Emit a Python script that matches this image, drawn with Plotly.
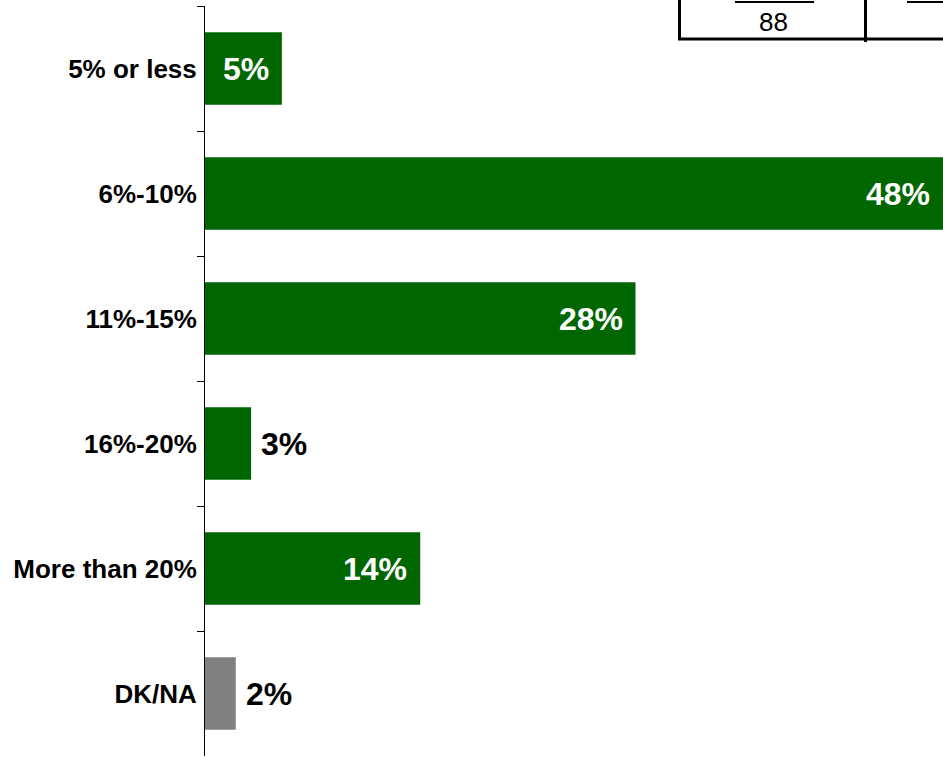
import plotly.graph_objects as go

categories = ["5% or less", "6%-10%", "11%-15%", "16%-20%", "More than 20%", "DK/NA"]
values = [5, 48, 28, 3, 14, 2]
labels = ["5%", "48%", "28%", "3%", "14%", "2%"]
colors = ["#006600", "#006600", "#006600", "#006600", "#006600", "#808080"]
table_value = "88"

W, H = 943, 757
ML, MR, MT, MB = 205, 0, 6, 1
PW, PH = W - ML - MR, H - MT - MB


def px(xp):
    return (xp - ML) / PW


def py(yp):
    return (H - MB - yp) / PH


FONT = "Liberation Sans, Arial, sans-serif"

fig = go.Figure(go.Bar(
    x=values, y=categories, orientation="h",
    marker=dict(color=colors, line=dict(width=0)),
    hoverinfo="skip",
))

annotations = []
for v, lab, c in zip(values, labels, categories):
    inside = v >= 5
    annotations.append(dict(
        x=v, y=c, xref="x", yref="y", text="<b>%s</b>" % lab, showarrow=False,
        xanchor="right" if inside else "left",
        xshift=-11 if inside else 8,
        font=dict(family=FONT, size=32, color="white" if inside else "black"),
    ))

annotations.append(dict(
    x=px(773), y=py(22), xref="paper", yref="paper", text=table_value,
    showarrow=False, xanchor="center", yanchor="middle",
    font=dict(family=FONT, size=26, color="black"),
))

line = dict(color="black", width=3)
shapes = [
    dict(type="line", xref="paper", yref="paper", x0=px(679.5), x1=px(679.5), y0=py(-10), y1=py(40), line=line),
    dict(type="line", xref="paper", yref="paper", x0=px(678), x1=px(960), y0=py(39), y1=py(39), line=line),
    dict(type="line", xref="paper", yref="paper", x0=px(865.5), x1=px(865.5), y0=py(-10), y1=py(42), line=line),
    dict(type="line", xref="paper", yref="paper", x0=px(735), x1=px(814), y0=py(2), y1=py(2), line=dict(color="black", width=2)),
    dict(type="line", xref="paper", yref="paper", x0=px(907), x1=px(960), y0=py(2), y1=py(2), line=dict(color="black", width=2)),
]

fig.update_layout(
    width=W, height=H,
    margin=dict(l=ML, r=MR, t=MT, b=MB, pad=0),
    paper_bgcolor="white", plot_bgcolor="white",
    bargap=0.42, showlegend=False,
    annotations=annotations, shapes=shapes,
    xaxis=dict(range=[0, 48], visible=False, fixedrange=True),
    yaxis=dict(
        autorange="reversed", type="category", fixedrange=True,
        tickson="boundaries", ticks="outside", ticklen=7, tickwidth=1, tickcolor="black",
        showline=True, linecolor="black", linewidth=1, showgrid=False,
        tickfont=dict(family=FONT, size=26, color="black"),
        ticklabelstandoff=2,
        tickprefix="<b>", ticksuffix="</b>",
    ),
)

fig.write_html(
    "out.html",
    config={"displayModeBar": False},
    post_script="document.body.style.margin='0';document.body.style.overflow='hidden';",
)
